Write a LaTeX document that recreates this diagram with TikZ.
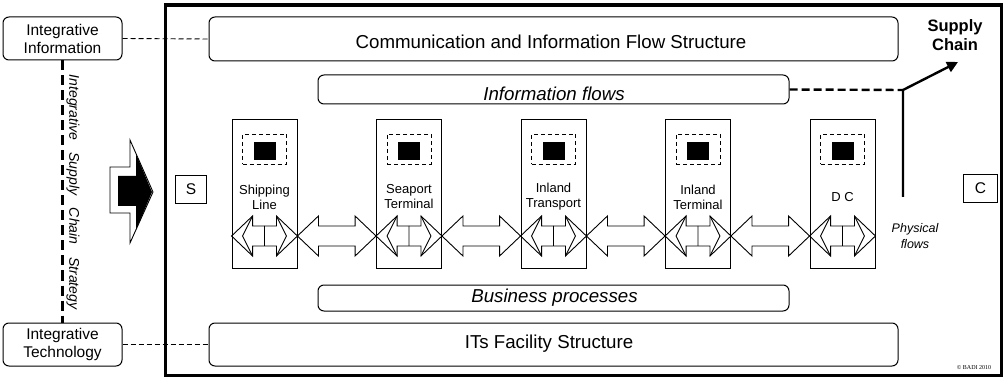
\documentclass[tikz,border=0pt]{standalone}
\usepackage{fontspec}
\setmainfont{Liberation Sans}
\newfontfamily\copyfont{Liberation Serif}
\usetikzlibrary{calc,arrows.meta}
\tikzset{
  rbox/.style={draw, rounded corners=6pt, line width=1pt, inner sep=0pt},
  sidebox/.style={rbox, minimum width=119pt, minimum height=43pt, align=center,
    font=\fontsize{15.5}{18}\selectfont},
  bigbox/.style={rbox, minimum width=689pt, minimum height=44pt},
  midbox/.style={rbox, minimum width=471pt, minimum height=27pt},
  maintxt/.style={inner sep=0pt, font=\fontsize{18.7}{22}\selectfont},
  actor/.style={draw, line width=0.9pt, minimum width=65pt, minimum height=149pt, inner sep=0pt},
  actorlbl/.style={align=center, inner sep=0pt, font=\fontsize{13}{15}\selectfont},
  dashrect/.style={draw, line width=0.8pt, dash pattern=on 4pt off 3pt, minimum width=44pt,
    minimum height=30pt, inner sep=0pt},
  blackrect/.style={fill=black, minimum width=22pt, minimum height=18pt, inner sep=0pt},
  endbox/.style={draw, line width=0.9pt, minimum height=28pt, inner sep=0pt,
    font=\fontsize{15.5}{18}\selectfont},
  thindash/.style={line width=0.9pt, dash pattern=on 5pt off 3pt},
  thickdash/.style={line width=2.4pt, dash pattern=on 10pt off 5pt},
  infodash/.style={line width=2.4pt, dash pattern=on 8pt off 4pt},
  arrowline/.style={line width=0.9pt, line join=miter},
}
\newcommand\blockarrow[2]{%
  \draw[arrowline] let \p1=#1, \p2=#2 in
    (\x1,\y1) -- (\x1+21pt,\y1+20pt) -- (\x1+21pt,\y1+10pt) -- (\x2-21pt,\y1+10pt)
    -- (\x2-21pt,\y1+20pt) -- (\x2,\y1) -- (\x2-21pt,\y1-20pt) -- (\x2-21pt,\y1-10pt)
    -- (\x1+21pt,\y1-10pt) -- (\x1+21pt,\y1-20pt) -- cycle;}
\newcommand\innerarrow[1]{%
  \blockarrow{(#1.west |- ay)}{(#1.east |- ay)}
  \draw[arrowline] let \p1=(#1.west |- ay), \p2=(#1.east |- ay), \p3=(#1.center) in
    (\x1+21pt,\y1+20pt) -- (\x1+11pt,\y1) -- (\x1+21pt,\y1-20pt)
    (\x2-21pt,\y1+20pt) -- (\x2-11pt,\y1) -- (\x2-21pt,\y1-20pt)
    (\x3,\y1+10pt) -- (\x3,\y1-10pt);}
\begin{document}
\begin{tikzpicture}[x=1pt,y=-1pt]
\useasboundingbox (0,0) rectangle (1006,379);
% main frame
\node[draw, line width=3.6pt, minimum width=836pt, minimum height=370.5pt, inner sep=0pt] (frame) at (583.5,190.25) {};
% side boxes
\node[sidebox] (info) at (62.5,38.5) {Integrative\\Information};
\node[sidebox] (tech) at (62.5,344.5) {Integrative\\Technology};
% structure boxes
\node[bigbox] (comm) at (553.5,39) {};
\node[maintxt] (commtxt) at (551,41.5) {Communication and Information Flow Structure};
\node[bigbox, minimum height=43pt] (its) at (553.5,344.5) {};
\node[maintxt] (itstxt) at (549,343.5) {ITs Facility Structure};
\node[midbox, minimum height=29pt] (iflow) at (553.5,89.5) {};
\node[maintxt, font=\fontsize{18.7}{22}\selectfont\itshape] (iflowtxt) at (554,94) {Information flows};
\node[midbox, minimum height=26pt] (bproc) at (553.5,298) {};
\node[maintxt, font=\fontsize{18.7}{22}\selectfont\itshape] (bproctxt) at (554.5,298) {Business processes};
% S and C
\node[endbox, minimum width=31pt] (S) at (191,189.5) {S};
\node[endbox, minimum width=34pt] (C) at (980.5,188.5) {C};
% supply chain label
\node[align=center, inner sep=0pt, font=\fontsize{16.5}{19}\selectfont\bfseries] (sc) at (955,35) {Supply\\Chain};
% connectors left
\draw[thindash] (info.east) -- (comm.west);
\draw[thindash] (tech.east) -- (its.west);
\draw[thickdash] (info.south) -- (tech.north);
\node[rotate=-90, inner sep=0pt, font=\fontsize{14}{16}\selectfont\itshape] (strat) at (73,192)
  {Integrative\hspace{0.9em}Supply\hspace{0.9em}Chain\hspace{0.9em}Strategy};
% big arrow
\draw[line width=0.9pt, fill=white, line join=miter] (110,167) -- (130,167) -- (130,140) -- (153,192)
  -- (130,243) -- (130,213) -- (110,213) -- cycle;
\fill (118,176) -- (136,176) -- (136,154) -- (152,192) -- (136,230) -- (136,206) -- (118,206) -- cycle;
% actors
\coordinate (ay) at (0,236);
\foreach \i/\xc/\txt in {1/264.5/{Shipping\\Line}, 2/409/{Seaport\\Terminal}, 3/553.5/{Inland\\Transport}, 4/698/{Inland\\Terminal}, 5/842.5/{D C}}{
  \node[actor] (a\i) at (\xc,193.5) {};
  \node[dashrect] (d\i) at (\xc,149) {};
  \node[blackrect] (b\i) at (\xc,151) {};
  \node[actorlbl] (l\i) at (\xc,197) {\txt};
}
\foreach \i in {1,...,5}{\innerarrow{a\i}}
\blockarrow{(a1.east |- ay)}{(a2.west |- ay)}
\blockarrow{(a2.east |- ay)}{(a3.west |- ay)}
\blockarrow{(a3.east |- ay)}{(a4.west |- ay)}
\blockarrow{(a4.east |- ay)}{(a5.west |- ay)}
% physical flows and supply chain arrow
\node[align=center, inner sep=0pt, font=\fontsize{12.5}{15.5}\selectfont\itshape] (pf) at (915,236) {Physical\\flows};
\coordinate (corner) at (903,90);
\coordinate (pbot) at (903,197);
\coordinate (tip) at (958,62);
\draw[infodash] (iflow.east) -- (corner);
\draw[line width=2.4pt, -{Triangle[length=11pt,width=11pt]}] (pbot) -- (corner) -- (tip);
% copyright
\node[inner sep=0pt, font=\copyfont\fontsize{6}{7}\selectfont] (copy) at (974,368) {© BADI 2010};
\end{tikzpicture}
\end{document}
